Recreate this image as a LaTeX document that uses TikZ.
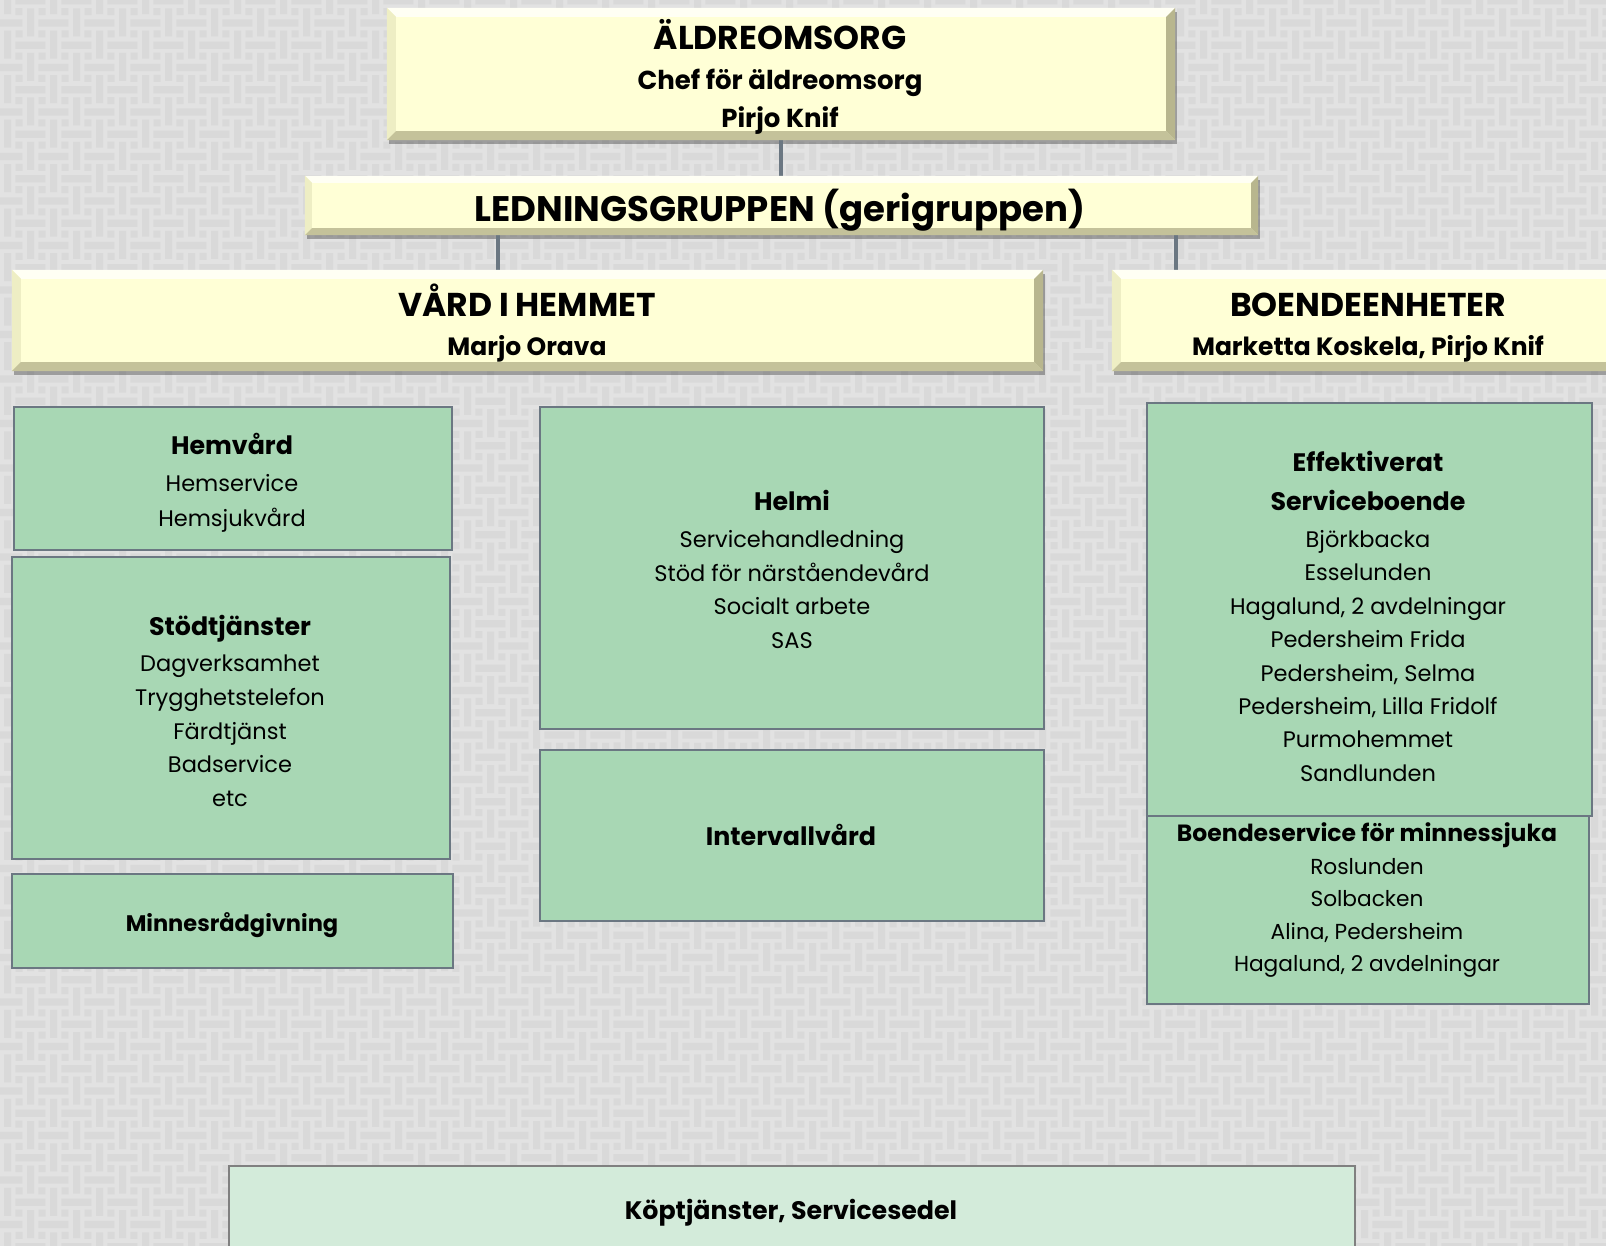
\documentclass[tikz,border=0pt]{standalone}
\usepackage{fontspec}
\setmainfont{Poppins}
\usetikzlibrary{shadows}
\definecolor{bgc}{HTML}{E2E2E2}
\definecolor{weavec}{HTML}{D9D9D9}
\definecolor{yfill}{HTML}{FFFFD6}
\definecolor{ylite}{HTML}{FFFFF4}
\definecolor{yleft}{HTML}{EEEEC4}
\definecolor{ydark}{HTML}{C4C29A}
\definecolor{yright}{HTML}{B8B68E}
\definecolor{gfill}{HTML}{A8D7B4}
\definecolor{kfill}{HTML}{D3EBDA}
\definecolor{edgec}{HTML}{6B7782}
\tikzset{
  yel/.style={rectangle, fill=yfill, draw=none, inner sep=0pt,
    drop shadow={shadow xshift=2pt, shadow yshift=-4pt, opacity=0.3, fill=black}},
  grn/.style={rectangle, fill=gfill, draw=edgec, line width=2.5pt, inner sep=0pt},
  kop/.style={rectangle, fill=kfill, draw=gray, line width=2.5pt, inner sep=0pt},
  conn/.style={draw=edgec, line width=4pt},
  txt/.style={inner sep=0pt, anchor=base, text=black},
  ttl/.style={txt, font=\fontsize{33}{38}\selectfont\bfseries},
  led/.style={txt, font=\fontsize{35.5}{42}\selectfont\bfseries},
  sub/.style={txt, font=\fontsize{25}{29}\selectfont\bfseries},
  subt/.style={txt, font=\fontsize{26}{30}\selectfont\bfseries},
  hd/.style={txt, font=\fontsize{25.3}{29}\selectfont\bfseries},
  hds/.style={txt, font=\fontsize{22.5}{26}\selectfont\bfseries},
  hdb/.style={txt, font=\fontsize{23.5}{27}\selectfont\bfseries},
  body/.style={txt, font=\fontsize{22.5}{26}\selectfont},
  bodys/.style={txt, font=\fontsize{21.7}{25}\selectfont},
}
\newcommand{\bev}[2]{%
  \fill[ylite] (#1.north west) -- (#1.north east) -- ([shift={(-#2,#2)}]#1.north east) -- ([shift={(#2,#2)}]#1.north west) -- cycle;
  \fill[yleft] (#1.north west) -- ([shift={(#2,#2)}]#1.north west) -- ([shift={(#2,-#2)}]#1.south west) -- (#1.south west) -- cycle;
  \fill[ydark] (#1.south west) -- ([shift={(#2,-#2)}]#1.south west) -- ([shift={(-#2,-#2)}]#1.south east) -- (#1.south east) -- cycle;
  \fill[yright] (#1.north east) -- ([shift={(-#2,#2)}]#1.north east) -- ([shift={(-#2,-#2)}]#1.south east) -- (#1.south east) -- cycle;
}
\newcommand{\stack}[6]{%
  \foreach \t [count=\i from 0] in {#6}
    \node[#1] (#2\i) at (#3,{#4+\i*#5}) {\t};
}
\begin{document}
\begin{tikzpicture}[x=1pt,y=-1pt]
\useasboundingbox (0,0) rectangle (1606,1246);
\clip (0,0) rectangle (1606,1246);
\fill[bgc] (0,0) rectangle (1606,1246);
\foreach \j in {-1,...,28} {
  \pgfmathsetmacro{\yA}{\j*44.5}
  \pgfmathsetmacro{\yB}{\j*44.5+22.25}
  \foreach \i in {-1,...,35} {
    \pgfmathsetmacro{\xA}{\i*46}
    \pgfmathsetmacro{\xB}{\i*46+23}
    \fill[weavec]
      (\xA-7.7,\yA+19.3) rectangle (\xA+22.3,\yA+26.7)
      (\xA+27,\yA+8.5) rectangle (\xA+34,\yA+36.5)
      (\xA+15.3,\yA+8.2) rectangle (\xA+22.3,\yA+15.2)
      (\xA+38.5,\yA+8.2) rectangle (\xA+45.5,\yA+15.2)
      (\xB-7.7,\yB+19.3) rectangle (\xB+22.3,\yB+26.7)
      (\xB+27,\yB+8.5) rectangle (\xB+34,\yB+36.5)
      (\xB+15.3,\yB+8.2) rectangle (\xB+22.3,\yB+15.2)
      (\xB+38.5,\yB+8.2) rectangle (\xB+45.5,\yB+15.2);
  }
}

% yellow boxes
\node[yel, minimum width=788pt, minimum height=132pt] (top) at (781,74) {};
\node[yel, minimum width=953pt, minimum height=59pt] (lg) at (781.5,205.5) {};
\node[yel, minimum width=1031pt, minimum height=101pt] (vard) at (527.5,320.5) {};
\node[yel, minimum width=512pt, minimum height=101pt] (boende) at (1368,320.5) {};

% connectors
\coordinate (cv) at ([xshift=-30pt]vard.north);
\coordinate (cb) at ([xshift=-192pt]boende.north);
\draw[conn] (top.south) -- (top.south |- lg.north);
\draw[conn] (cv |- lg.south) -- (cv);
\draw[conn] (cb |- lg.south) -- (cb);

\bev{top}{9}
\bev{lg}{7}
\bev{vard}{9}
\bev{boende}{9}

% green boxes
\node[grn, minimum width=438pt, minimum height=143pt] (hem) at (233,478.5) {};
\node[grn, minimum width=438pt, minimum height=302pt] (stod) at (231,708) {};
\node[grn, minimum width=441pt, minimum height=94pt] (minne) at (232.5,921) {};
\node[grn, minimum width=504pt, minimum height=322pt] (helmi) at (792,568) {};
\node[grn, minimum width=504pt, minimum height=171pt] (interv) at (792,835.5) {};
\node[grn, minimum width=445pt, minimum height=413pt] (eff) at (1369.5,609.5) {};
\node[grn, minimum width=442pt, minimum height=188pt] (bsm) at (1368,910) {};
\node[kop, minimum width=1126pt, minimum height=100pt] (kopbox) at (792,1216) {};

% texts
\node[ttl] (t1) at (780,49.5) {ÄLDREOMSORG};
\node[subt] (t2) at (780,89.5) {Chef för äldreomsorg};
\node[subt] (t3) at (780,127.5) {Pirjo Knif};
\node[led] (t4) at (780,222) {LEDNINGSGRUPPEN (gerigruppen)};
\node[ttl] (t5) at (527,317) {VÅRD I HEMMET};
\node[sub] (t6) at (527,355.5) {Marjo Orava};
\node[ttl] (t7) at (1368,317) {BOENDEENHETER};
\node[sub] (t8) at (1368,355.5) {Marketta Koskela, Pirjo Knif};

\node[hd] (h1) at (232,454.5) {Hemvård};
\stack{body}{hb}{232}{491.5}{35}{Hemservice,Hemsjukvård}
\node[hd] (h2) at (230,635.5) {Stödtjänster};
\stack{body}{sb}{230}{671.5}{33.75}{Dagverksamhet,Trygghetstelefon,Färdtjänst,Badservice,etc}
\node[hds] (h3) at (232,931.5) {Minnesrådgivning};
\node[hd] (h4) at (792,510.5) {Helmi};
\stack{body}{mb}{792}{547.5}{33.7}{Servicehandledning,Stöd för närståendevård,Socialt arbete,SAS}
\node[hd] (h5) at (791,845.5) {Intervallvård};
\node[hd] (h6) at (1368,471.5) {Effektiverat};
\node[hd] (h7) at (1368,510.5) {Serviceboende};
\stack{body}{eb}{1368}{547.5}{33.4}{Björkbacka,Esselunden,{Hagalund, 2 avdelningar},Pedersheim Frida,{Pedersheim, Selma},{Pedersheim, Lilla Fridolf},Purmohemmet,Sandlunden}
\node[hdb] (h8) at (1367,841.5) {Boendeservice för minnessjuka};
\stack{bodys}{bb}{1367}{874.5}{32.3}{Roslunden,Solbacken,{Alina, Pedersheim},{Hagalund, 2 avdelningar}}
\node[hd] (h9) at (791,1219.5) {Köptjänster, Servicesedel};
\end{tikzpicture}
\end{document}
